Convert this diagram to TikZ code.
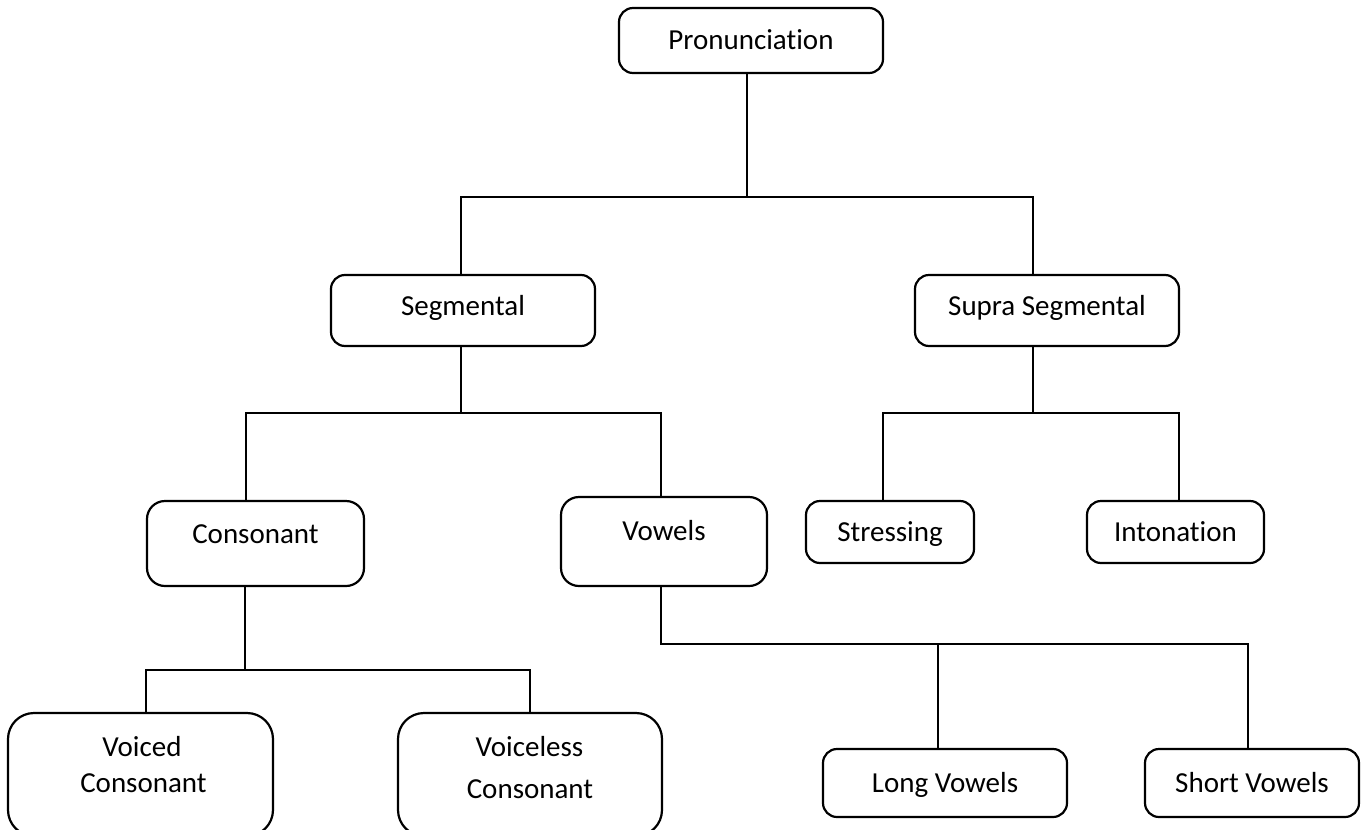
\documentclass[tikz,border=0pt]{standalone}
\usepackage{fontspec}
\setmainfont{Carlito}[RawFeature={-liga;-clig}]
\begin{document}
\begin{tikzpicture}[x=1pt,y=-1pt,
  box/.style={draw=black, line width=2.2pt, rounded corners=14pt, fill=white,
    font=\fontsize{29}{35}\selectfont, text height=20pt, text depth=2pt,
    inner sep=0pt, outer sep=0pt},
  bigbox/.style={box, rounded corners=26pt},
  conn/.style={draw=black, line width=2pt},
  txt/.style={font=\fontsize{29}{35}\selectfont, anchor=base, inner sep=0pt}]
\useasboundingbox (0,0) rectangle (1363,830);
\fill[white] (0,0) rectangle (1363,830);
\begin{scope}
\clip (-5,-5) rectangle (1368,830);
\node[box, minimum width=264pt, minimum height=65pt] (pron) at (751,40.5) {Pronunciation};
\node[box, minimum width=264pt, minimum height=71pt, text depth=10pt] (seg) at (463,310.5) {Segmental};
\node[box, minimum width=264pt, minimum height=71pt, text depth=10pt] (supra) at (1047,310.5) {Supra Segmental};
\node[box, rounded corners=18pt, minimum width=217pt, minimum height=85pt, text depth=20pt] (cons) at (255.5,543.5) {Consonant};
\node[box, rounded corners=18pt, minimum width=206pt, minimum height=89pt, text depth=22.4pt] (vow) at (664,541.5) {Vowels};
\node[box, minimum width=168pt, minimum height=62pt] (stress) at (890,532) {Stressing};
\node[box, minimum width=177pt, minimum height=62pt] (inton) at (1175.5,532) {Intonation};
\node[bigbox, minimum width=265pt, minimum height=123pt] (voiced) at (140.5,774.5) {};
\node[bigbox, minimum width=264pt, minimum height=123pt] (voiceless) at (530,774.5) {};
\node[box, minimum width=244pt, minimum height=68pt] (long) at (945,783) {Long Vowels};
\node[box, minimum width=214pt, minimum height=68pt] (short) at (1252,783) {Short Vowels};
\node[txt] (voicedA) at (142,756) {Voiced};
\node[txt] (voicedB) at (143.5,792) {Consonant};
\node[txt] (voicelessA) at (529.5,756) {Voiceless};
\node[txt] (voicelessB) at (530,798) {Consonant};
\end{scope}
% junction coordinates
\coordinate (j0) at (747,197);
\coordinate (j0l) at (461,197);
\coordinate (j0r) at (1033,197);
\coordinate (j1) at (461,413);
\coordinate (j1l) at (246,413);
\coordinate (j1r) at (661,413);
\coordinate (j2) at (1033,413);
\coordinate (j2l) at (883,413);
\coordinate (j2r) at (1179,413);
\coordinate (j3) at (245,670);
\coordinate (j3l) at (146,670);
\coordinate (j3r) at (530,670);
\coordinate (j4) at (661,644);
\coordinate (j4l) at (938,644);
\coordinate (j4r) at (1248,644);
% connectors
\draw[conn] (pron.south -| j0) -- (j0);
\draw[conn] (seg.north -| j0l) -- (j0l) -- (j0r) -- (supra.north -| j0r);
\draw[conn] (seg.south -| j1) -- (j1);
\draw[conn] (cons.north -| j1l) -- (j1l) -- (j1r) -- (vow.north -| j1r);
\draw[conn] (supra.south -| j2) -- (j2);
\draw[conn] (stress.north -| j2l) -- (j2l) -- (j2r) -- (inton.north -| j2r);
\draw[conn] (cons.south -| j3) -- (j3);
\draw[conn] (voiced.north -| j3l) -- (j3l) -- (j3r) -- (voiceless.north -| j3r);
\draw[conn] (vow.south -| j4) -- (j4) -- (j4r) -- (short.north -| j4r);
\draw[conn] (j4l) -- (long.north -| j4l);
\end{tikzpicture}
\end{document}
